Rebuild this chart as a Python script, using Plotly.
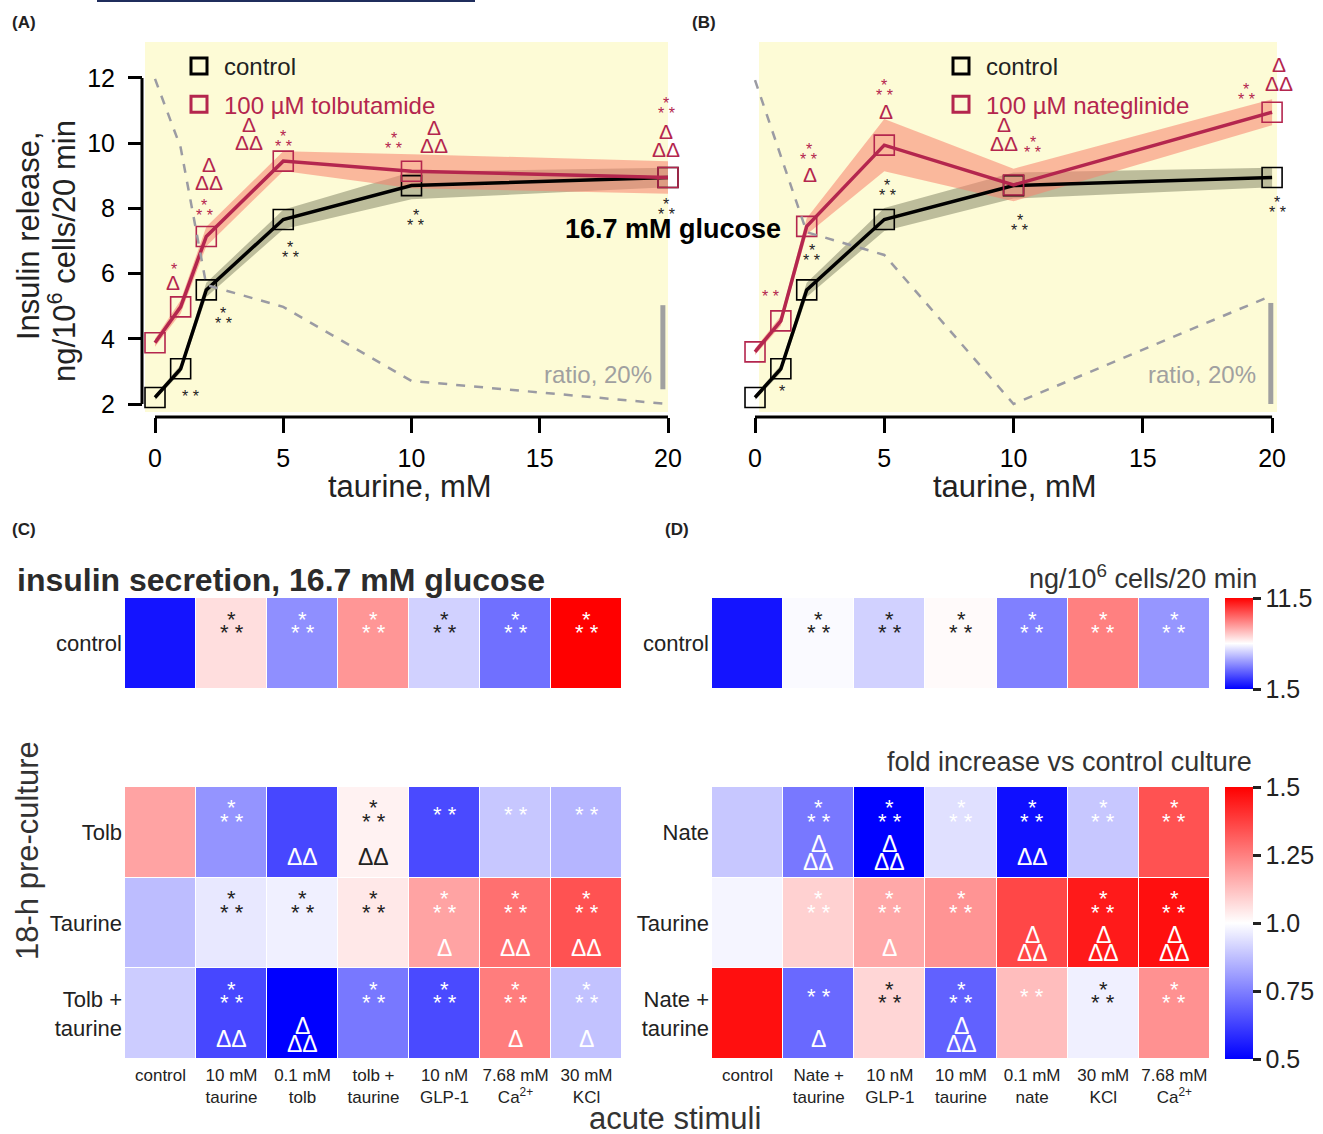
import plotly.graph_objects as go

W, H = 1323, 1134
FONT = "Liberation Sans, Arial, Helvetica, sans-serif"
INK = "#222222"
CRIMSON = "#b4264e"
YELLOW = "#fdfbd6"

# ---------------- data: panels A and B ----------------
taurine_mM = [0, 1, 2, 5, 10, 20]

ctrl_A = [2.2, 3.08, 5.5, 7.66, 8.7, 8.95]
ctrl_A_err = [0.08, 0.12, 0.22, 0.3, 0.42, 0.3]
tolb_A = [3.88, 4.98, 7.14, 9.45, 9.14, 8.95]
tolb_A_err = [0.12, 0.2, 0.3, 0.3, 0.52, 0.5]
ratio_A = [1.773, 1.61, 1.283, 1.231, 1.055, 1.0]

ctrl_B = [2.2, 3.08, 5.5, 7.66, 8.7, 8.95]
ctrl_B_err = [0.08, 0.12, 0.22, 0.35, 0.4, 0.3]
nate_B = [3.6, 4.55, 7.45, 9.94, 8.72, 10.95]
nate_B_err = [0.1, 0.15, 0.25, 0.8, 0.5, 0.4]
ratio_B = [1.641, 1.49, 1.34, 1.295, 1.0, 1.215]

ratio_bar_A = [1.035, 1.235]   # 20 % scale bar
ratio_bar_B = [1.0, 1.2]

y_ticks = [2, 4, 6, 8, 10, 12]
x_ticks = [0, 5, 10, 15, 20]

# significance marks (stars: 1,2,3 ; deltas: 1=Δ, 2=ΔΔ, 3=Δ/ΔΔ)
sig_ctrl_A = {1: 2, 2: 3, 5: 3, 10: 3, 20: 3}
sig_tolb_A_star = {1: 1, 2: 3, 5: 3, 10: 3, 20: 3}
sig_tolb_A_delta = {1: 1, 2: 3, 5: 3, 10: 3, 20: 3}
sig_ctrl_B = {1: 1, 2: 3, 5: 3, 10: 3, 20: 3}
sig_nate_B_star = {1: 2, 2: 3, 5: 3, 10: 3, 20: 3}
sig_nate_B_delta = {2: 1, 5: 1, 10: 3, 20: 3}

# ---------------- data: panels C and D ----------------
C_cols = ["control", "10 mM<br>taurine", "0.1 mM<br>tolb", "tolb +<br>taurine",
          "10 nM<br>GLP-1", "7.68 mM<br>Ca<sup>2+</sup>", "30 mM<br>KCl"]
D_cols = ["control", "Nate +<br>taurine", "10 nM<br>GLP-1", "10 mM<br>taurine",
          "0.1 mM<br>nate", "30 mM<br>KCl", "7.68 mM<br>Ca<sup>2+</sup>"]
C_rows = ["Tolb", "Taurine", "Tolb +<br>taurine"]
D_rows = ["Nate", "Taurine", "Nate +<br>taurine"]

C_top = [[1.9, 7.15, 4.3, 8.55, 5.6, 3.7, 11.5]]
D_top = [[1.9, 6.4, 5.6, 6.6, 4.0, 9.0, 4.45]]
C_bottom = [[1.18, 0.79, 0.64, 1.025, 0.645, 0.89, 0.855],
            [0.87, 0.955, 0.97, 1.045, 1.18, 1.28, 1.34],
            [0.90, 0.64, 0.50, 0.735, 0.645, 1.255, 0.88]]
D_bottom = [[0.89, 0.735, 0.50, 0.94, 0.53, 0.89, 1.34],
            [0.98, 1.09, 1.17, 1.21, 1.36, 1.45, 1.47],
            [1.47, 0.705, 1.08, 0.69, 1.13, 0.97, 1.215]]

C_top_stars = [["", "3k", "3w", "3w", "3k", "3w", "3w"]]
D_top_stars = [["", "3k", "3k", "3k", "3w", "3w", "3w"]]
C_bot_stars = [["", "3w", "", "3k", "2w", "2w", "2w"],
               ["", "3k", "3k", "3k", "3w", "3w", "3w"],
               ["", "3w", "", "3w", "3w", "3w", "3w"]]
C_bot_deltas = [["", "", "2w", "2k", "", "", ""],
                ["", "", "", "", "1w", "2w", "2w"],
                ["", "2w", "3w", "", "", "1w", "1w"]]
D_bot_stars = [["", "3w", "3w", "3w", "3w", "3w", "3w"],
               ["", "3w", "3w", "3w", "", "3w", "3w"],
               ["", "2w", "3k", "3w", "2w", "3k", "3w"]]
D_bot_deltas = [["", "3w", "3w", "", "2w", "", ""],
                ["", "", "1w", "", "3w", "3w", "3w"],
                ["", "1w", "", "3w", "", "", ""]]

cb_top_ticks = [1.5, 11.5]
cb_bot_ticks = [0.5, 0.75, 1.0, 1.25, 1.5]
cb_bot_text = ["0.5", "0.75", "1.0", "1.25", "1.5"]

# ---------------- helpers ----------------
def px_x(p):
    return p / W


def px_y(p):
    return 1 - p / H


def star_lines(n):
    return {1: ["*"], 2: ["* *"], 3: ["*", "* *"]}[n]


def delta_lines(n):
    return {1: ["Δ"], 2: ["ΔΔ"], 3: ["Δ", "ΔΔ"]}[n]


annotations = []


def stack(xref, yref, x, y, lines, color, size, dx, dy0, step, lift):
    for i, t in enumerate(lines):
        annotations.append(dict(
            xref=xref, yref=yref, x=x, y=y, text=t, showarrow=False,
            xshift=dx, yshift=-(dy0 + i * step) - lift,
            font=dict(family=FONT, size=size, color=color)))


fig = go.Figure()


def band(xs, ys, err, color, xa, ya):
    up = [v + e for v, e in zip(ys, err)]
    lo = [v - e for v, e in zip(ys, err)]
    fig.add_trace(go.Scatter(x=xs + xs[::-1], y=up + lo[::-1], fill="toself",
                             fillcolor=color, line=dict(width=0), mode="lines",
                             xaxis=xa, yaxis=ya, showlegend=False, hoverinfo="skip"))


def series(xs, ys, color, xa, ya):
    fig.add_trace(go.Scatter(x=xs, y=ys, mode="lines+markers", xaxis=xa, yaxis=ya,
                             line=dict(color=color, width=3.5),
                             marker=dict(symbol="square-open", size=20,
                                         color=color, line=dict(width=1.6, color=color)),
                             cliponaxis=False, showlegend=False))


def ratio_line(xs, rs, xa, ya):
    fig.add_trace(go.Scatter(x=xs, y=rs, mode="lines", xaxis=xa, yaxis=ya,
                             line=dict(color="#9b9ba3", width=2.5, dash="dash"),
                             showlegend=False, hoverinfo="skip"))


def scale_bar(xpos, rb, xa, ya):
    fig.add_trace(go.Scatter(x=[xpos, xpos], y=rb, mode="lines", xaxis=xa, yaxis=ya,
                             line=dict(color="#a0a0a0", width=5),
                             showlegend=False, hoverinfo="skip"))


# ---------------- panel A ----------------
ratio_line(taurine_mM, ratio_A, "x", "y3")
band(taurine_mM, ctrl_A, ctrl_A_err, "rgba(110,112,85,0.45)", "x", "y")
band(taurine_mM, tolb_A, tolb_A_err, "rgba(248,130,110,0.55)", "x", "y")
series(taurine_mM, ctrl_A, "#000000", "x", "y")
series(taurine_mM, tolb_A, CRIMSON, "x", "y")
scale_bar(19.8, ratio_bar_A, "x", "y3")

# ---------------- panel B ----------------
ratio_line(taurine_mM, ratio_B, "x2", "y4")
band(taurine_mM, ctrl_B, ctrl_B_err, "rgba(110,112,85,0.45)", "x2", "y2")
band(taurine_mM, nate_B, nate_B_err, "rgba(248,130,110,0.55)", "x2", "y2")
series(taurine_mM, ctrl_B, "#000000", "x2", "y2")
series(taurine_mM, nate_B, CRIMSON, "x2", "y2")
scale_bar(19.95, ratio_bar_B, "x2", "y4")

# legends
for name, col, lg in [("control", "#000000", "legend"),
                      ("<span style='color:%s'>100 µM tolbutamide</span>" % CRIMSON, CRIMSON, "legend"),
                      ("control", "#000000", "legend2"),
                      ("<span style='color:%s'>100 µM nateglinide</span>" % CRIMSON, CRIMSON, "legend2")]:
    fig.add_trace(go.Scatter(x=[None], y=[None], mode="markers", name=name,
                             legend=lg, legendgroup=name + lg,
                             marker=dict(symbol="square-open", size=16, color=col,
                                         line=dict(width=3, color=col)),
                             xaxis="x" if lg == "legend" else "x2",
                             yaxis="y" if lg == "legend" else "y2"))

# significance marks, A
off_ctrl_A = {1: (10, 24), 2: (17, 20), 5: (7, 24), 10: (4, 26), 20: (-2, 23)}
off_tolb_A_s = {1: (-7, -41), 2: (-2, -35), 5: (0, -29), 10: (-18, -37), 20: (-2, -78)}
off_tolb_A_d = {1: (-8, -24), 2: (3, -72), 5: (-34, -37), 10: (22, -44), 20: (-2, -46)}
for k, n in sig_ctrl_A.items():
    i = taurine_mM.index(k)
    stack("x", "y", k, ctrl_A[i], star_lines(n), INK, 16, *off_ctrl_A[k], 10, 4)
for k, n in sig_tolb_A_star.items():
    i = taurine_mM.index(k)
    stack("x", "y", k, tolb_A[i], star_lines(n), CRIMSON, 16, *off_tolb_A_s[k], 10, 4)
for k, n in sig_tolb_A_delta.items():
    i = taurine_mM.index(k)
    stack("x", "y", k, tolb_A[i], delta_lines(n), CRIMSON, 21, *off_tolb_A_d[k], 18, 0)

# significance marks, B
off_ctrl_B = {1: (1, 19), 2: (5, -43), 5: (3, -38), 10: (6, 31), 20: (5, 21)}
off_nate_B_s = {1: (-10, -28), 2: (2, -81), 5: (0, -64), 10: (19, -46), 20: (-26, -27)}
off_nate_B_d = {2: (3, -52), 5: (2, -34), 10: (-10, -60), 20: (7, -48)}
for k, n in sig_ctrl_B.items():
    i = taurine_mM.index(k)
    stack("x2", "y2", k, ctrl_B[i], star_lines(n), INK, 16, *off_ctrl_B[k], 10, 4)
for k, n in sig_nate_B_star.items():
    i = taurine_mM.index(k)
    stack("x2", "y2", k, nate_B[i], star_lines(n), CRIMSON, 16, *off_nate_B_s[k], 10, 4)
for k, n in sig_nate_B_delta.items():
    i = taurine_mM.index(k)
    stack("x2", "y2", k, nate_B[i], delta_lines(n), CRIMSON, 21, *off_nate_B_d[k], 19, 0)

# ratio labels
for xa, ya in [("x", "y"), ("x2", "y2")]:
    annotations.append(dict(xref=xa, yref=ya, x=20, y=2.9, xanchor="right", xshift=-14,
                            text="ratio, 20%", showarrow=False,
                            font=dict(family=FONT, size=24, color="#a0a0a0")))

# ---------------- heatmaps ----------------
cscale = [[0, "rgb(0,0,255)"], [0.5, "rgb(255,255,255)"], [1, "rgb(255,0,0)"]]
for z, xa, ya, ca in [(C_top, "x5", "y5", "coloraxis"), (C_bottom, "x6", "y6", "coloraxis2"),
                      (D_top, "x7", "y7", "coloraxis"), (D_bottom, "x8", "y8", "coloraxis2")]:
    fig.add_trace(go.Heatmap(z=z, x=list(range(len(z[0]))), y=list(range(len(z))),
                             coloraxis=ca, xaxis=xa, yaxis=ya, xgap=1, ygap=1,
                             hoverinfo="skip"))


def cell_marks(stars, deltas, xa, ya):
    for r, row in enumerate(stars):
        for c, code in enumerate(row):
            if not code:
                continue
            n, col = int(code[0]), ("#ffffff" if code[1] == "w" else INK)
            if n == 3:
                stack(xa, ya, c, r, ["*", "* *"], col, 22, 0, -29.5, 13.5, 5)
            else:
                stack(xa, ya, c, r, star_lines(n), col, 22, 0, -22.5, 13.5, 5)
    if deltas is None:
        return
    for r, row in enumerate(deltas):
        for c, code in enumerate(row):
            if not code:
                continue
            n, col = int(code[0]), ("#ffffff" if code[1] == "w" else INK)
            if n == 3:
                stack(xa, ya, c, r, ["Δ", "ΔΔ"], col, 23, 0, 12, 18, 0)
            else:
                stack(xa, ya, c, r, delta_lines(n), col, 23, 0, 25, 18, 0)


cell_marks(C_top_stars, None, "x5", "y5")
cell_marks(C_bot_stars, C_bot_deltas, "x6", "y6")
cell_marks(D_top_stars, None, "x7", "y7")
cell_marks(D_bot_stars, D_bot_deltas, "x8", "y8")

# ---------------- texts ----------------
def txt(x, y, t, size, color=INK, bold=False, xanchor="left", angle=0):
    annotations.append(dict(xref="paper", yref="paper", x=px_x(x), y=px_y(y),
                            text="<b>%s</b>" % t if bold else t, showarrow=False,
                            xanchor=xanchor, yanchor="middle", textangle=angle,
                            font=dict(family=FONT, size=size, color=color)))


txt(10, 22, "(A)", 17, bold=True)
txt(690, 22, "(B)", 17, bold=True)
txt(10, 530, "(C)", 17, bold=True)
txt(663, 530, "(D)", 17, bold=True)
txt(673, 229, "16.7 mM glucose", 27, color="#000000", bold=True, xanchor="center")
txt(28, 236, "Insulin release,", 31, xanchor="center", angle=-90)
txt(62, 251, "ng/10<sup>6</sup> cells/20 min", 31, xanchor="center", angle=-90)
txt(410, 486, "taurine, mM", 31, xanchor="center")
txt(1015, 486, "taurine, mM", 31, xanchor="center")
txt(15, 580, "insulin secretion, 16.7 mM glucose", 32, color="#2b2b2b", bold=True)
txt(1259, 577, "ng/10<sup>6</sup> cells/20 min", 27, color="#333333", xanchor="right")
txt(1254, 762, "fold increase vs control culture", 27, color="#333333", xanchor="right")
txt(27, 851, "18-h pre-culture", 31, color="#333333", xanchor="center", angle=-90)
txt(675, 1118, "acute stimuli", 31, color="#333333", xanchor="center")

# ---------------- shapes ----------------
shapes = [
    dict(type="rect", xref="x domain", yref="y domain", x0=0, x1=1, y0=0, y1=1,
         fillcolor=YELLOW, line=dict(width=0), layer="below"),
    dict(type="rect", xref="x2", yref="y2 domain", x0=0.155, x1=20.19, y0=0, y1=1,
         fillcolor=YELLOW, line=dict(width=0), layer="below"),
    dict(type="line", xref="x", yref="paper", x0=0, x1=20, y0=px_y(417), y1=px_y(417),
         line=dict(color="#000000", width=3)),
    dict(type="line", xref="x2", yref="paper", x0=0, x1=20, y0=px_y(417), y1=px_y(417),
         line=dict(color="#000000", width=3)),
    dict(type="line", xref="paper", yref="y", x0=px_x(142), x1=px_x(142), y0=2, y1=12,
         line=dict(color="#000000", width=3)),
    dict(type="line", xref="paper", yref="paper", x0=px_x(97), x1=px_x(475), y0=px_y(1),
         y1=px_y(1), line=dict(color="#1f2d5c", width=2)),
]

tickfont = dict(family=FONT, size=25, color="#000000")
lax = dict(showgrid=False, zeroline=False, showline=False, automargin=False)

layout = dict(
    width=W, height=H, autosize=False,
    margin=dict(l=0, r=0, t=0, b=0, pad=0, autoexpand=False),
    paper_bgcolor="white", plot_bgcolor="white",
    font=dict(family=FONT, color=INK),
    xaxis=dict(domain=[px_x(145), px_x(668)], range=[-0.39, 20.0], anchor="free",
               position=px_y(417), tickvals=x_ticks, ticks="outside", ticklen=15,
               tickwidth=3, tickcolor="#000", tickfont=tickfont, ticklabelstandoff=4, **lax),
    yaxis=dict(domain=[px_y(412), px_y(42)], range=[1.755, 13.104], anchor="free",
               position=px_x(142), tickvals=y_ticks, ticks="outside", ticklen=14,
               tickwidth=3, tickcolor="#000", tickfont=tickfont, ticklabelstandoff=8, **lax),
    yaxis3=dict(overlaying="y", anchor="x", range=[0.9810, 1.8608], visible=False),
    xaxis2=dict(domain=[px_x(745), px_x(1277)], range=[-0.387, 20.19], anchor="free",
                position=px_y(417), tickvals=x_ticks, ticks="outside", ticklen=15,
                tickwidth=3, tickcolor="#000", tickfont=tickfont, ticklabelstandoff=4, **lax),
    yaxis2=dict(domain=[px_y(412), px_y(42)], range=[1.755, 13.104], anchor="x2",
                visible=False),
    yaxis4=dict(overlaying="y2", anchor="x2", range=[0.9842, 1.7164], visible=False),
)

hm_xfont = dict(family=FONT, size=17, color=INK)
hm_yfont = dict(family=FONT, size=22, color=INK)
for i, (xd, yd, rows, cols, showx) in {
        5: ((125, 622), (689, 598), ["control"], C_cols, False),
        6: ((125, 622), (1059, 787), C_rows, C_cols, True),
        7: ((712, 1210), (689, 598), ["control"], D_cols, False),
        8: ((712, 1210), (1059, 787), D_rows, D_cols, True)}.items():
    layout["xaxis%d" % i] = dict(domain=[px_x(xd[0]), px_x(xd[1])], range=[-0.5, 6.5],
                                 anchor="y%d" % i, tickvals=list(range(7)), ticktext=cols,
                                 showticklabels=showx, ticks="", tickfont=hm_xfont,
                                 ticklabelstandoff=4, **lax)
    layout["yaxis%d" % i] = dict(domain=[px_y(yd[0]), px_y(yd[1])],
                                 range=[len(rows) - 0.5, -0.5], anchor="x%d" % i,
                                 tickvals=list(range(len(rows))), ticktext=rows, ticks="",
                                 tickfont=hm_yfont, ticklabelstandoff=2, **lax)

layout["coloraxis"] = dict(cmin=1.5, cmax=11.5, colorscale=cscale, colorbar=dict(
    x=px_x(1225), xanchor="left", xpad=0, ypad=0, thickness=28, len=91, lenmode="pixels",
    y=px_y(643.5), yanchor="middle", tickvals=cb_top_ticks, ticktext=["1.5", "11.5"],
    ticks="outside", ticklen=8, tickwidth=3, tickcolor="#222",
    tickfont=dict(family=FONT, size=25, color=INK), outlinewidth=0))
layout["coloraxis2"] = dict(cmin=0.5, cmax=1.5, colorscale=cscale, colorbar=dict(
    x=px_x(1225), xanchor="left", xpad=0, ypad=0, thickness=28, len=272, lenmode="pixels",
    y=px_y(923), yanchor="middle", tickvals=cb_bot_ticks, ticktext=cb_bot_text,
    ticks="outside", ticklen=8, tickwidth=3, tickcolor="#222",
    tickfont=dict(family=FONT, size=25, color=INK), outlinewidth=0))

legend_common = dict(xanchor="left", yanchor="top", bgcolor="rgba(0,0,0,0)",
                     font=dict(family=FONT, size=24, color=INK), tracegroupgap=4,
                     itemwidth=40, traceorder="grouped")
layout["legend"] = dict(x=px_x(174), y=px_y(44), **legend_common)
layout["legend2"] = dict(x=px_x(936), y=px_y(44), **legend_common)
layout["showlegend"] = True
layout["annotations"] = annotations
layout["shapes"] = shapes

fig.update_layout(**layout)
fig.write_html("out.html",
               config={"responsive": False, "displayModeBar": False},
               post_script="document.body.style.margin='0px';document.body.style.overflow='hidden';")
